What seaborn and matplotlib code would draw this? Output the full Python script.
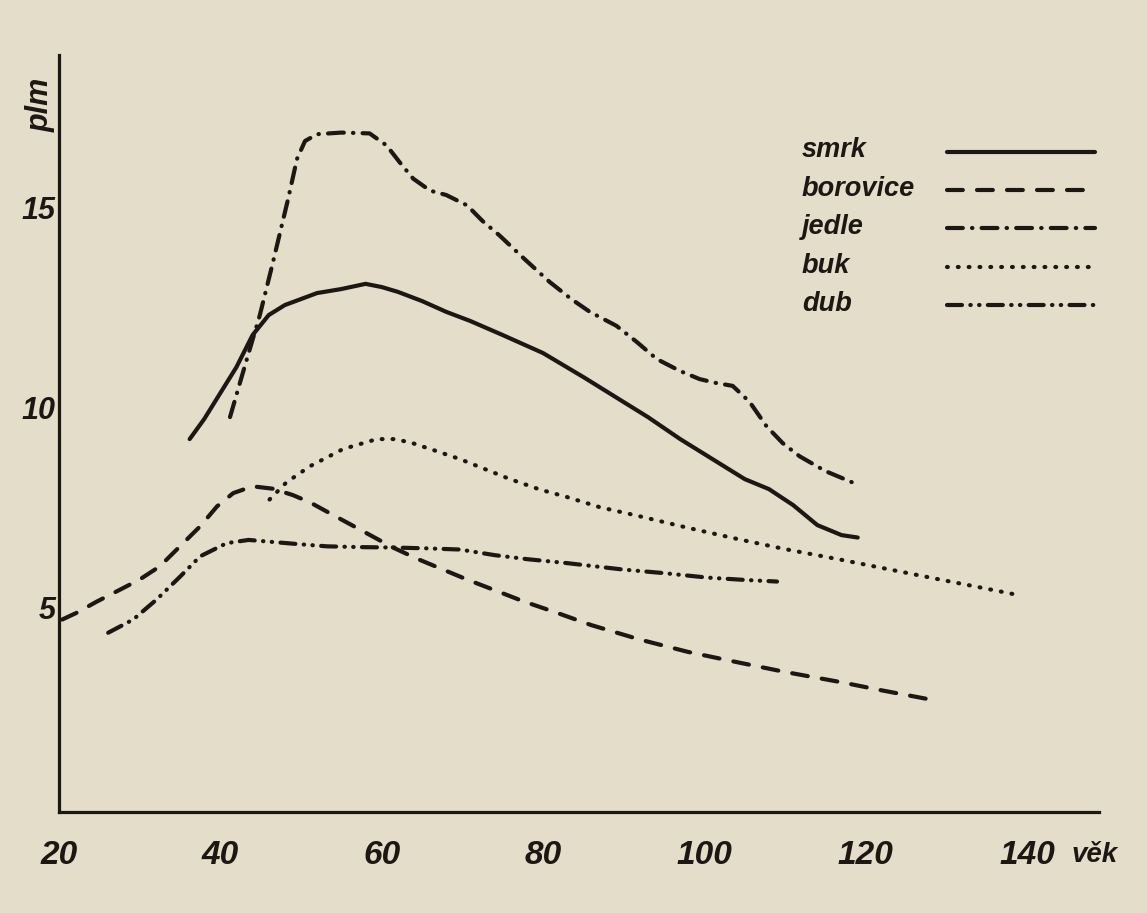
import numpy as np
import pandas as pd
import matplotlib
matplotlib.use("Agg")
import matplotlib.pyplot as plt
import seaborn as sns

# ---------------- data ----------------
species = ["smrk", "borovice", "jedle", "buk", "dub"]

smrk_age = [36.2, 38, 40, 42, 44, 46, 48, 50, 52, 55, 58, 60, 62, 65, 68, 71, 75,
            80, 85, 89, 93, 97, 101, 105, 108, 111, 114, 117, 119]
smrk_val = [9.2, 9.7, 10.35, 11.0, 11.8, 12.3, 12.55, 12.7, 12.85, 12.95, 13.08, 13.0,
            12.88, 12.65, 12.38, 12.15, 11.8, 11.35, 10.75, 10.25, 9.75, 9.2, 8.7,
            8.2, 7.95, 7.55, 7.05, 6.8, 6.74]

borovice_age = [20.4, 22.2, 24.7, 27.6, 30, 32.5, 35, 37.5, 39.6, 41.6, 44, 46.5, 49,
                51.1, 54, 57.3, 61.4, 64.5, 67.6, 70.7, 73.8, 77.5, 81.7, 86, 92, 98,
                104.4, 110, 116.8, 122, 128.3]
borovice_val = [4.69, 4.86, 5.14, 5.44, 5.69, 6.02, 6.52, 7.02, 7.52, 7.85, 8.02, 7.96,
                7.8, 7.62, 7.3, 6.94, 6.49, 6.2, 5.94, 5.68, 5.44, 5.15, 4.86, 4.55,
                4.19, 3.88, 3.61, 3.38, 3.13, 2.92, 2.68]

jedle_age = [41.2, 43, 44.9, 46.5, 48.4, 49.5, 50.5, 52, 55, 58.5, 60.6, 62.3, 63.9,
             66, 68, 70.6, 72.5, 74.6, 77.7, 80.8, 83.5, 85.8, 89.1, 91.6, 94.1, 97,
             99.4, 101.5, 103.5, 105.6, 107.7, 109.7, 111.8, 115, 118.9]
jedle_val = [9.75, 11.0, 12.3, 13.6, 15.2, 16.2, 16.65, 16.82, 16.86, 16.84, 16.54,
             16.1, 15.71, 15.41, 15.3, 15.04, 14.65, 14.29, 13.7, 13.13, 12.7, 12.38,
             12.03, 11.63, 11.2, 10.9, 10.7, 10.6, 10.53, 10.13, 9.52, 9.1, 8.77,
             8.4, 8.07]

buk_age = [46.1, 48.2, 51.1, 55.2, 59.4, 61.5, 63.5, 66.5, 69.7, 72.8, 75.9, 79.6,
           83, 87, 92, 98, 104.4, 110, 116.8, 123, 129.2, 134, 138.7]
buk_val = [7.69, 8.12, 8.52, 8.95, 9.2, 9.2, 9.12, 8.92, 8.7, 8.45, 8.2, 7.94, 7.75,
           7.5, 7.27, 6.98, 6.69, 6.45, 6.19, 5.94, 5.69, 5.5, 5.31]

dub_age = [26.1, 29.2, 32.1, 35, 37.5, 40.8, 43.5, 47, 50, 53.2, 57.5, 61.4, 65.5,
           69.7, 74, 78, 83, 89.9, 95, 100.3, 105, 109]
dub_val = [4.36, 4.69, 5.19, 5.76, 6.27, 6.6, 6.68, 6.62, 6.57, 6.52, 6.5, 6.49,
           6.47, 6.44, 6.3, 6.2, 6.1, 5.94, 5.85, 5.74, 5.68, 5.64]

x_ticks = [20, 40, 60, 80, 100, 120, 140]
y_ticks = [5, 10, 15]
x_label = "věk"
y_label = "plm"

# ---------------- build long table ----------------
series = {
    "smrk": (smrk_age, smrk_val),
    "borovice": (borovice_age, borovice_val),
    "jedle": (jedle_age, jedle_val),
    "buk": (buk_age, buk_val),
    "dub": (dub_age, dub_val),
}
frames = [pd.DataFrame({"věk": a, "plm": v, "druh": k}) for k, (a, v) in series.items()]
df = pd.concat(frames, ignore_index=True)

# ---------------- style ----------------
PAPER = "#e3ddca"
INK = "#1d1713"
FONT = "Liberation Sans"

sns.set_theme(style="white")
plt.rcParams["font.family"] = [FONT, "DejaVu Sans"]
plt.rcParams["lines.dash_capstyle"] = "round"
plt.rcParams["lines.solid_capstyle"] = "round"

fig = plt.figure(figsize=(11.47, 9.13), dpi=100, facecolor=PAPER)
ax = fig.add_axes([0.0514, 0.1106, 0.9067, 0.8292], facecolor=PAPER)

dash_map = {
    "smrk": "",
    "borovice": (3.8, 3.4),
    "jedle": (3.8, 2.2, 0.1, 2.2),
    "buk": (0.2, 2.4),
    "dub": (3.6, 2.0, 0.1, 2.0, 0.1, 2.0),
}
palette = {k: INK for k in species}

sns.lineplot(data=df, x="věk", y="plm", hue="druh", style="druh",
             hue_order=species, style_order=species, palette=palette,
             dashes=dash_map, estimator=None, sort=False, linewidth=3.0,
             ax=ax, legend="full")

handles, labels = ax.get_legend_handles_labels()
if ax.get_legend() is not None:
    ax.get_legend().remove()
hmap = dict(zip(labels, handles))
hl = [hmap[s] for s in species]
for h in hl:
    h.set_linewidth(3.0)

# ---------------- axes ----------------
ax.set_xlim(20, 148.9)
ax.set_ylim(-0.12, 18.8)
for s in ["top", "right"]:
    ax.spines[s].set_visible(False)
for s in ["left", "bottom"]:
    ax.spines[s].set_color(INK)
    ax.spines[s].set_linewidth(2.3)

ax.set_xticks(x_ticks)
ax.set_yticks(y_ticks)
ax.set_xticklabels([str(t) for t in x_ticks], fontsize=24, style="italic",
                   fontweight="bold", color=INK)
ax.set_yticklabels([str(t) for t in y_ticks], fontsize=22, style="italic",
                   fontweight="bold", color=INK)
ax.tick_params(axis="x", direction="inout", length=12, width=2, color=INK, pad=14)
ax.tick_params(axis="y", direction="inout", length=12, width=2, color=INK, pad=-3.5)
ax.grid(False)

ax.set_xlabel(x_label, fontsize=20, style="italic", fontweight="bold", color=INK)
ax.xaxis.set_label_coords(0.996, -0.057)
ax.xaxis.label.set_va("center")
ax.set_ylabel(y_label, fontsize=22, style="italic", fontweight="bold", color=INK,
              rotation=90)
ax.yaxis.set_label_coords(-0.018, 0.934)
ax.yaxis.label.set_va("center")

# ---------------- legend: names on the left, line samples on the right ----------------
LFS = 19.5
common = dict(frameon=False, fontsize=LFS, labelspacing=0.46, borderpad=0,
              borderaxespad=0, loc="upper left", bbox_transform=fig.transFigure)
leg_text = ax.legend(hl, species, handlelength=0, handletextpad=0,
                     bbox_to_anchor=(0.699, 0.8495), **common)
for t in leg_text.get_texts():
    t.set_style("italic")
    t.set_fontweight("bold")
    t.set_color(INK)
for h in leg_text.legend_handles:
    h.set_visible(False)
ax.add_artist(leg_text)

leg_lines = ax.legend(hl, [""] * len(species), handlelength=5.46, handletextpad=0,
                      bbox_to_anchor=(0.8256, 0.8455), **common)
for h in leg_lines.legend_handles:
    h.set_linewidth(3.0)
    h.set_color(INK)

fig.savefig("out.png", dpi=100, facecolor=PAPER)
